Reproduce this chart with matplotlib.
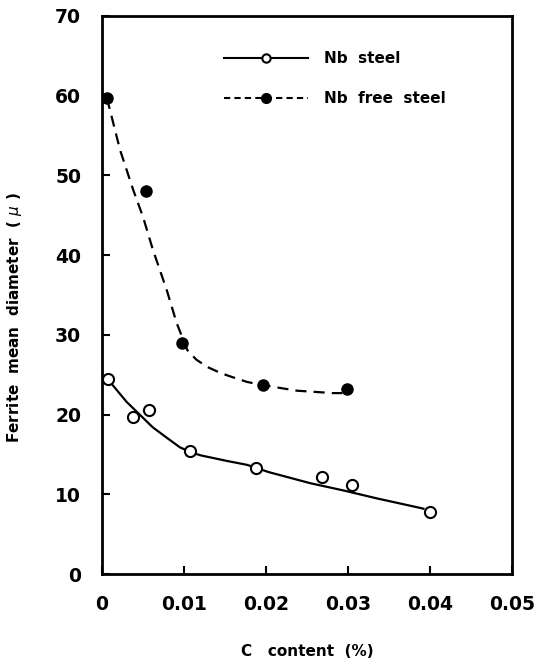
import matplotlib
matplotlib.use("Agg")
import matplotlib.pyplot as plt
from matplotlib.lines import Line2D

# Measured data points
nb_x = [0.0007, 0.0038, 0.0057, 0.0107, 0.0188, 0.0268, 0.0305, 0.0400]
nb_y = [24.5, 19.7, 20.6, 15.4, 13.3, 12.2, 11.2, 7.8]
free_x = [0.0006, 0.0054, 0.0098, 0.0196, 0.0299]
free_y = [59.7, 48.0, 29.0, 23.7, 23.2]

# Hand-drawn fit curves
nb_curve_x = [0.0013, 0.0030, 0.0046, 0.0062, 0.0079, 0.0095, 0.0108, 0.0120, 0.0152,
              0.0177, 0.0203, 0.0254, 0.0294, 0.0335, 0.0388, 0.0392]
nb_curve_y = [23.7, 21.6, 20.0, 18.4, 17.1, 15.9, 15.3, 14.9, 14.2,
              13.7, 12.8, 11.4, 10.5, 9.5, 8.3, 8.2]
free_curve_x = [0.0006, 0.0022, 0.0038, 0.0050, 0.0062, 0.0079, 0.0091, 0.0104, 0.0115,
                0.0128, 0.0145, 0.0162, 0.0177, 0.0196, 0.0238, 0.0282, 0.0293]
free_curve_y = [59.7, 53.2, 48.2, 44.8, 40.7, 35.6, 31.5, 28.1, 26.9,
                26.0, 25.2, 24.6, 24.1, 23.7, 23.0, 22.7, 22.7]

x_ticks = [0, 0.01, 0.02, 0.03, 0.04, 0.05]
x_ticklabels = ["0", "0.01", "0.02", "0.03", "0.04", "0.05"]
y_ticks = [0, 10, 20, 30, 40, 50, 60, 70]
y_ticklabels = ["0", "10", "20", "30", "40", "50", "60", "70"]
legend_labels = ["Nb  steel", "Nb  free  steel"]

fig = plt.figure(figsize=(5.47, 6.66), dpi=100)
ax = fig.add_axes([0.1865, 0.138, 0.7495, 0.838])

ax.plot(nb_curve_x, nb_curve_y, color="black", lw=1.6, solid_joinstyle="round")
ax.plot(free_curve_x, free_curve_y, color="black", lw=1.6, ls=(0, (5, 3.2)))
ax.plot(nb_x, nb_y, ls="none", marker="o", ms=8, mfc="white", mec="black", mew=1.5, zorder=3)
ax.plot(free_x, free_y, ls="none", marker="o", ms=8, mfc="black", mec="black", zorder=3)

ax.set_xlim(0, 0.05)
ax.set_ylim(0, 70)
ax.set_xticks(x_ticks)
ax.set_xticklabels(x_ticklabels)
ax.set_yticks(y_ticks)
ax.set_yticklabels(y_ticklabels)
ax.tick_params(direction="in", length=6, width=1.5, labelsize=13.5, pad=15,
               top=False, right=False)
for lab in ax.get_xticklabels() + ax.get_yticklabels():
    lab.set_fontweight("bold")
for sp in ax.spines.values():
    sp.set_linewidth(2)

ax.set_xlabel("C   content  (%)", fontsize=11, fontweight="bold", labelpad=22)
ax.set_ylabel("Ferrite  mean  diameter  ( $\\mu$ )", fontsize=11, fontweight="bold")
ax.yaxis.set_label_coords(-0.19, 0.46)

handles = [
    Line2D([], [], color="black", lw=1.5, marker="o", ms=6, mfc="white", mec="black", mew=1.5),
    Line2D([], [], color="black", lw=1.5, ls=(0, (3, 2)), marker="o", ms=7, mfc="black", mec="black"),
]
leg = ax.legend(handles, legend_labels, loc="upper left", bbox_to_anchor=(0.265, 0.962),
                frameon=False, handlelength=5.5, handletextpad=1.0, labelspacing=1.65,
                numpoints=1, prop={"size": 11, "weight": "bold"})

fig.savefig("out.png", dpi=100)
